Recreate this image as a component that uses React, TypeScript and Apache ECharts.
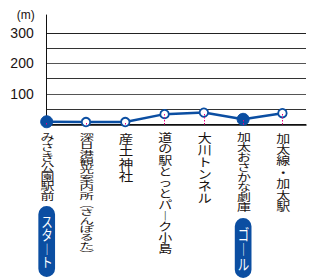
import React, { useEffect, useRef } from 'react';
import * as echarts from 'echarts';

const stops = [
  'みさき公園駅前',
  '深日港観光案内所（さんぽるた）',
  '産土神社',
  '道の駅とっとパーク小島',
  '大川トンネル',
  '加太おさかな劇庫',
  '加太線・加太駅',
];
const elevations = [9, 8, 8, 34, 39, 17, 37];
const yLabelValues = [100, 200, 300];
const startIndex = 0;
const goalIndex = 5;
const startText = 'スタート';
const goalText = 'ゴール';
const unitText = '(m)';

const BLUE = '#0b4ea2';
const TEXT = '#1a1311';
const JP = '"Noto Sans CJK JP", "Noto Sans", sans-serif';

// per-label vertical text metrics (style): font size and per-character pitch
const labelMetrics = [
  { fs: 14, pitch: 9.8 },
  { fs: 14.5, pitch: 8.35 },
  { fs: 14.5, pitch: 12.5 },
  { fs: 14, pitch: 11.1 },
  { fs: 14, pitch: 12 },
  { fs: 14, pitch: 10 },
  { fs: 14, pitch: 11.4 },
];

const vert = (s: string) =>
  s.replace(/（/g, '︵').replace(/）/g, '︶').replace(/ー/g, '︱');

export default function App() {
  const ref = useRef<HTMLDivElement>(null);
  useEffect(() => {
    if (!ref.current) return;
    const chart = echarts.init(ref.current, undefined, { renderer: 'svg' });
    const option: any = {
      animation: false,
      textStyle: { fontFamily: JP },
      grid: { left: 46.7, right: 7, top: 15, bottom: 153.5 },
      xAxis: {
        type: 'value',
        min: 0,
        max: 6.6,
        interval: 1,
        axisLine: { show: true, lineStyle: { color: '#111', width: 1.5 } },
        axisTick: { show: false },
        splitLine: { show: false },
        axisLabel: { show: false },
      },
      yAxis: {
        type: 'value',
        min: 0,
        max: 359,
        interval: 50,
        name: unitText,
        nameLocation: 'end',
        nameGap: 0,
        nameTextStyle: {
          fontSize: 12,
          color: TEXT,
          fontFamily: '"Liberation Sans", Arial, sans-serif',
          align: 'right',
          verticalAlign: 'middle',
          padding: [0, 12, 0, 0],
        },
        axisLine: { show: true, lineStyle: { color: '#111', width: 1 } },
        axisTick: { show: false },
        splitLine: {
          show: true,
          showMaxLine: false,
          lineStyle: {
            width: 1,
            color: ['#111', '#333', '#555', '#333', '#555', '#333', '#222', 'rgba(0,0,0,0)', 'rgba(0,0,0,0)'],
          },
        },
        axisLabel: {
          margin: 13,
          fontSize: 14,
          color: TEXT,
          fontFamily: '"Liberation Sans", Arial, sans-serif',
          formatter: (v: number) => (yLabelValues.includes(v) ? String(v) : ''),
        },
      },
      series: [
        {
          type: 'line',
          clip: false,
          data: elevations.map((v, i) => {
            const filled = i === startIndex || i === goalIndex;
            return {
              value: [i, v],
              symbolSize: filled ? 12 : 8.5,
              itemStyle: filled
                ? { color: BLUE, borderColor: BLUE, borderWidth: 1 }
                : { color: '#fff', borderColor: BLUE, borderWidth: 1.8 },
            };
          }),
          symbol: 'circle',
          lineStyle: { color: BLUE, width: 2.5 },
          itemStyle: { color: '#fff', borderColor: BLUE },
          z: 3,
          markLine: {
            silent: true,
            symbol: ['none', 'none'],
            label: { show: false },
            lineStyle: { color: '#e4007f', type: [1.5, 1.5], width: 1 },
            data: elevations.map((v, i) => [{ coord: [i, 0] }, { coord: [i, v] }]),
          },
        },
      ],
    };
    chart.setOption(option);

    const px = (i: number) => chart.convertToPixel({ xAxisIndex: 0 }, i) as number;

    const labels = stops.map((name, i) => {
      const m = labelMetrics[i];
      return {
        type: 'text',
        x: px(i) + 0.8,
        y: 132,
        scaleY: m.pitch / m.fs,
        style: {
          text: Array.from(vert(name)).join('\n'),
          fill: TEXT,
          fontSize: m.fs,
          lineHeight: m.fs,
          fontFamily: JP,
          align: 'center',
          verticalAlign: 'top',
        },
        z: 5,
      };
    });

    const pill = (idx: number, text: string, top: number, h: number, pitch: number, textCy: number) => {
      const cx = px(idx);
      const w = 16.7;
      const fs = 11.5;
      return [
        {
          type: 'rect',
          shape: { x: cx - w / 2, y: top, width: w, height: h, r: w / 2 },
          style: { fill: BLUE },
          z: 10,
        },
        {
          type: 'text',
          x: cx + 0.3,
          y: textCy,
          scaleY: pitch / fs,
          style: {
            text: Array.from(vert(text)).join('\n'),
            fill: '#fff',
            fontSize: fs,
            lineHeight: fs,
            fontFamily: JP,
            align: 'center',
            verticalAlign: 'middle',
          },
          z: 11,
        },
      ];
    };
    chart.setOption({
      graphic: [
        ...labels,
        ...pill(startIndex, startText, 206, 71, 13.3, 241.5),
        ...pill(goalIndex, goalText, 218, 60, 15, 249),
      ],
    });
    return () => chart.dispose();
  }, []);
  return (
    <div
      ref={ref}
      style={{ position: 'absolute', left: 0, top: 0, width: 313, height: 278 }}
    />
  );
}
